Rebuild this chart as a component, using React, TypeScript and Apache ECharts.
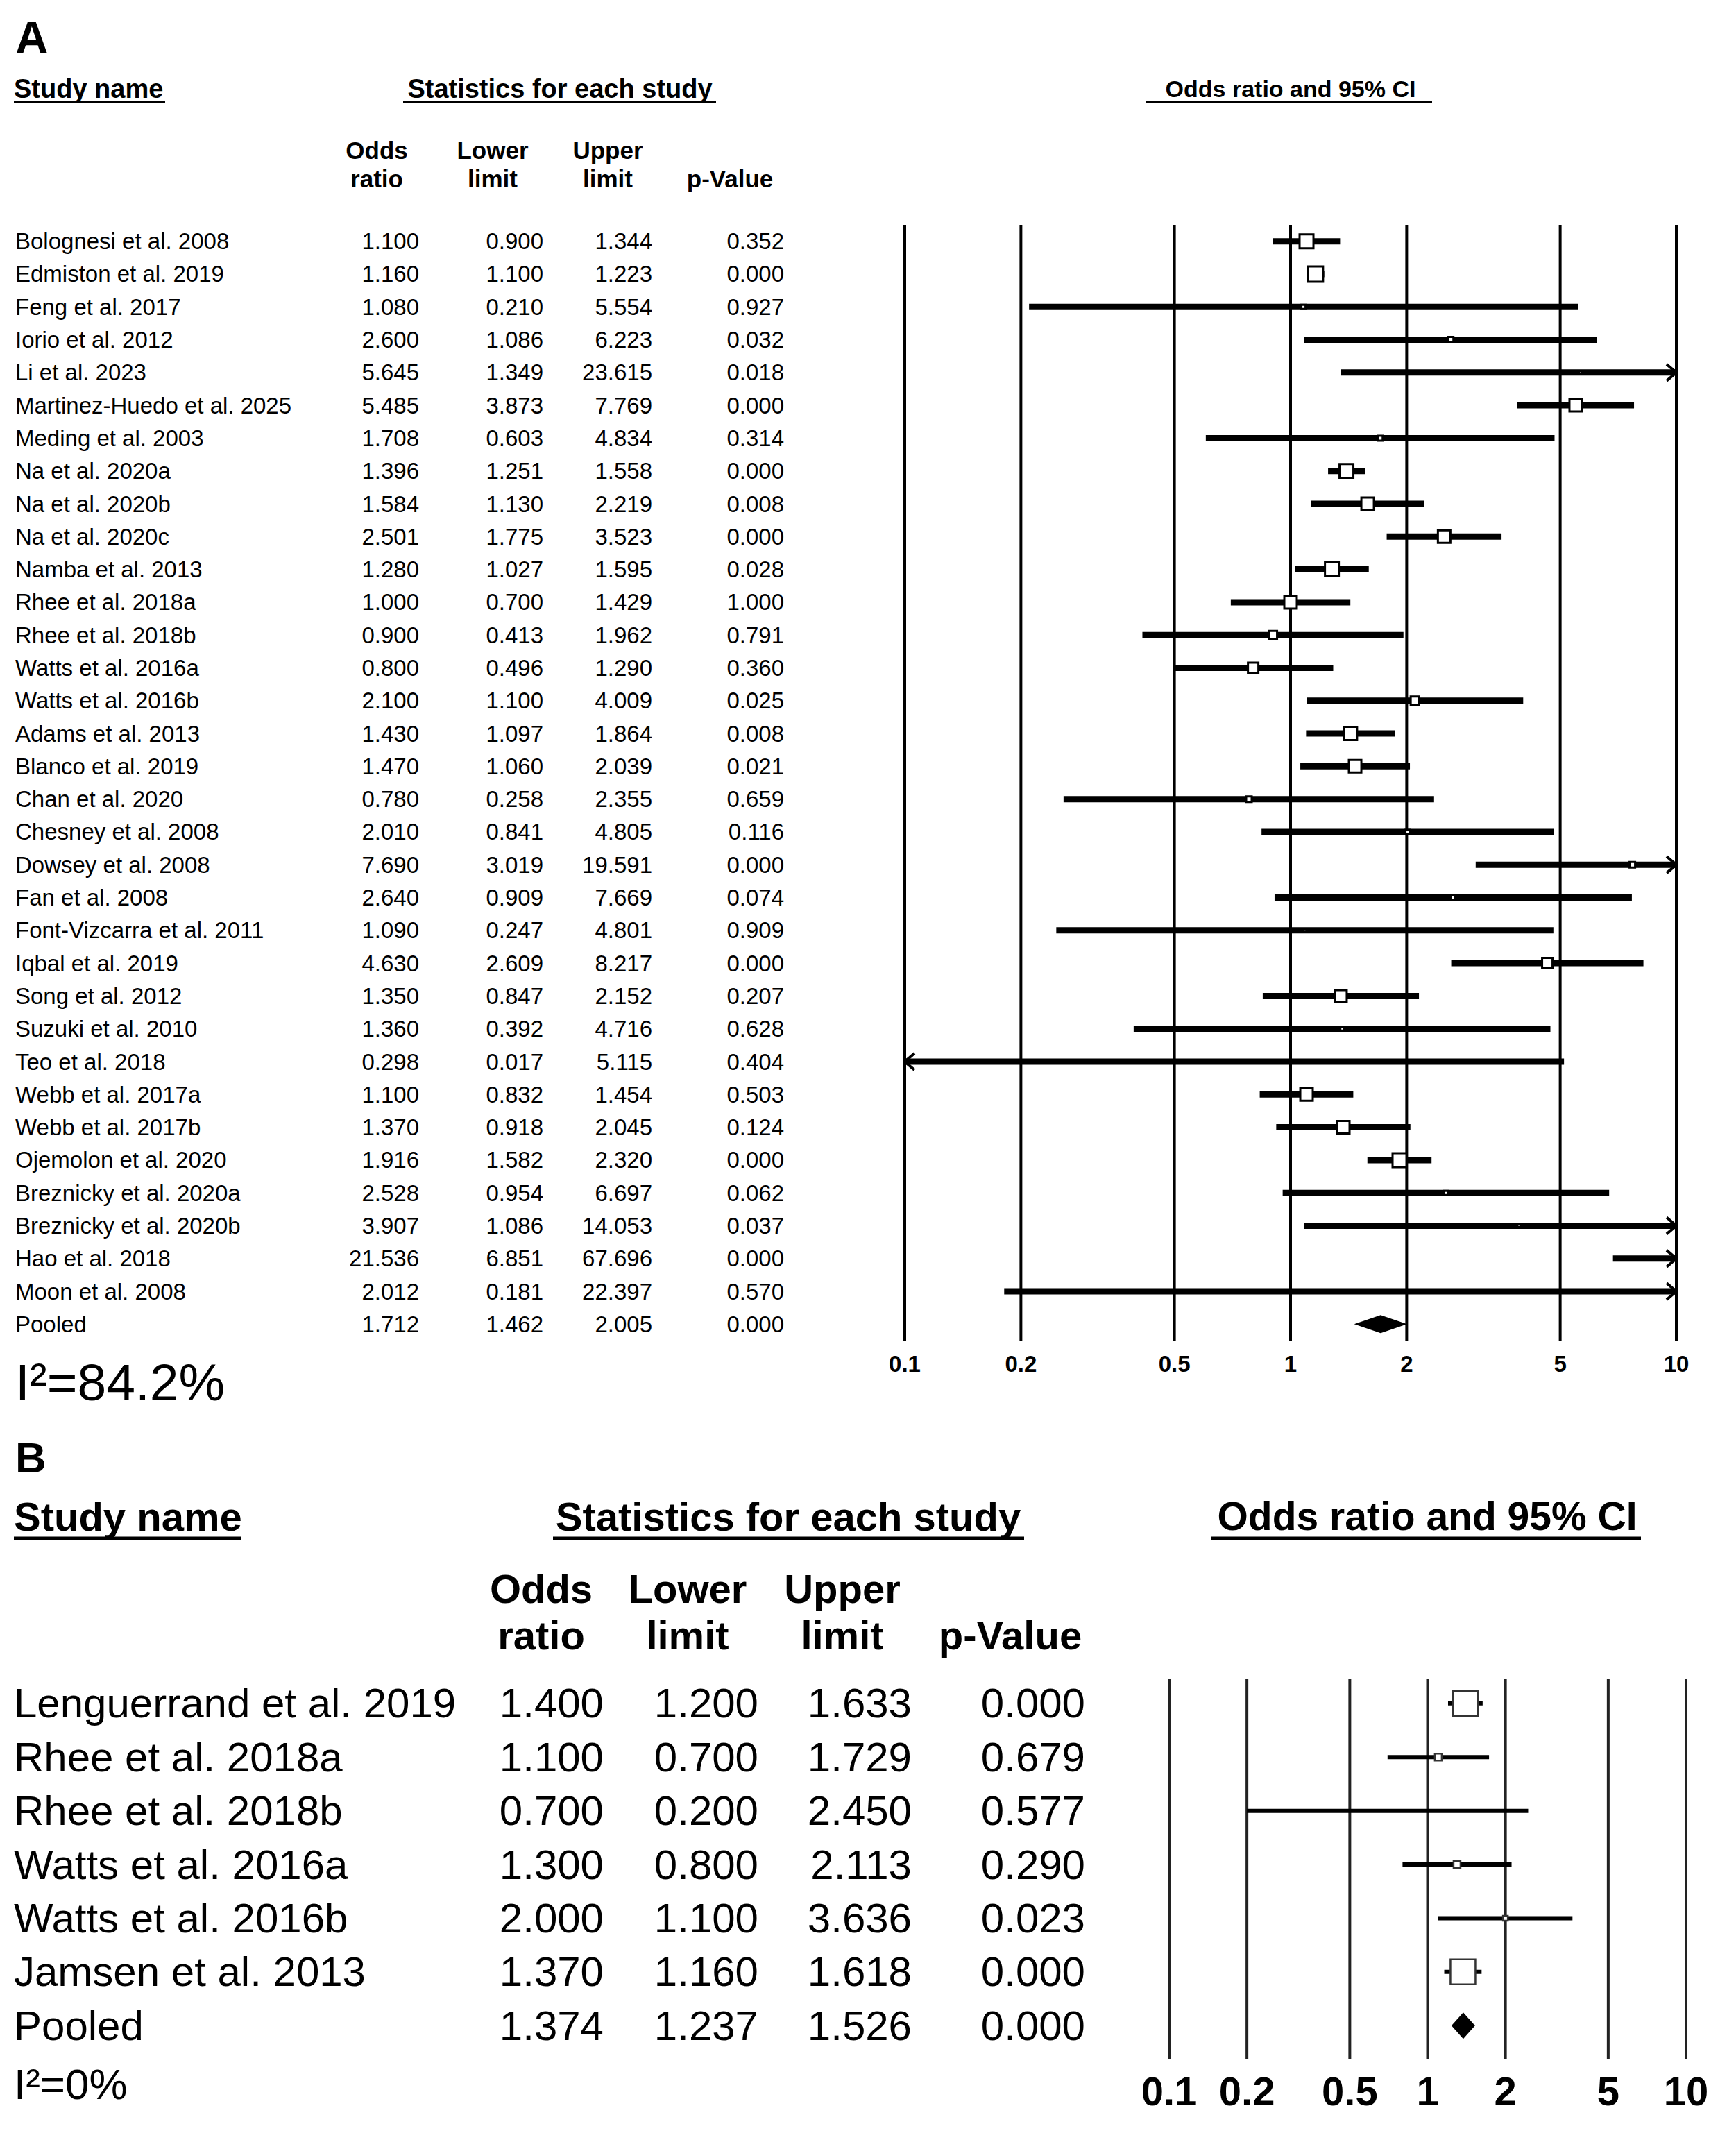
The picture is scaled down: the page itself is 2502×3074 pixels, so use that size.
import React, { useEffect, useRef } from "react";
import * as echarts from "echarts";

// ---------- Panel A data ----------
const studiesA = [
  "Bolognesi et al. 2008", "Edmiston et al. 2019", "Feng et al. 2017", "Iorio et al. 2012",
  "Li et al. 2023", "Martinez-Huedo et al. 2025", "Meding et al. 2003", "Na et al. 2020a",
  "Na et al. 2020b", "Na et al. 2020c", "Namba et al. 2013", "Rhee et al. 2018a",
  "Rhee et al. 2018b", "Watts et al. 2016a", "Watts et al. 2016b", "Adams et al. 2013",
  "Blanco et al. 2019", "Chan et al. 2020", "Chesney et al. 2008", "Dowsey et al. 2008",
  "Fan et al. 2008", "Font-Vizcarra et al. 2011", "Iqbal et al. 2019", "Song et al. 2012",
  "Suzuki et al. 2010", "Teo et al. 2018", "Webb et al. 2017a", "Webb et al. 2017b",
  "Ojemolon et al. 2020", "Breznicky et al. 2020a", "Breznicky et al. 2020b", "Hao et al. 2018",
  "Moon et al. 2008", "Pooled",
];
const orA = [1.1, 1.16, 1.08, 2.6, 5.645, 5.485, 1.708, 1.396, 1.584, 2.501, 1.28, 1.0, 0.9, 0.8, 2.1, 1.43, 1.47, 0.78, 2.01, 7.69, 2.64, 1.09, 4.63, 1.35, 1.36, 0.298, 1.1, 1.37, 1.916, 2.528, 3.907, 21.536, 2.012, 1.712];
const loA = [0.9, 1.1, 0.21, 1.086, 1.349, 3.873, 0.603, 1.251, 1.13, 1.775, 1.027, 0.7, 0.413, 0.496, 1.1, 1.097, 1.06, 0.258, 0.841, 3.019, 0.909, 0.247, 2.609, 0.847, 0.392, 0.017, 0.832, 0.918, 1.582, 0.954, 1.086, 6.851, 0.181, 1.462];
const hiA = [1.344, 1.223, 5.554, 6.223, 23.615, 7.769, 4.834, 1.558, 2.219, 3.523, 1.595, 1.429, 1.962, 1.29, 4.009, 1.864, 2.039, 2.355, 4.805, 19.591, 7.669, 4.801, 8.217, 2.152, 4.716, 5.115, 1.454, 2.045, 2.32, 6.697, 14.053, 67.696, 22.397, 2.005];
const pA = [0.352, 0.0, 0.927, 0.032, 0.018, 0.0, 0.314, 0.0, 0.008, 0.0, 0.028, 1.0, 0.791, 0.36, 0.025, 0.008, 0.021, 0.659, 0.116, 0.0, 0.074, 0.909, 0.0, 0.207, 0.628, 0.404, 0.503, 0.124, 0.0, 0.062, 0.037, 0.0, 0.57, 0.0];
// relative study weights (marker size)
const weightA = [10, 11, 3, 4, 2, 9, 3.5, 10, 9, 9, 10, 9, 6, 7.5, 6, 9.5, 9, 4, 3, 4, 3, 2, 7.5, 8.5, 2.5, 1.5, 9, 9, 10, 3, 2, 2, 1.5, 0];
const I2A = "I²=84.2%";

// ---------- Panel B data ----------
const studiesB = ["Lenguerrand et al. 2019", "Rhee et al. 2018a", "Rhee et al. 2018b", "Watts et al. 2016a", "Watts et al. 2016b", "Jamsen et al. 2013", "Pooled"];
const orB = [1.4, 1.1, 0.7, 1.3, 2.0, 1.37, 1.374];
const loB = [1.2, 0.7, 0.2, 0.8, 1.1, 1.16, 1.237];
const hiB = [1.633, 1.729, 2.45, 2.113, 3.636, 1.618, 1.526];
const pB = [0.0, 0.679, 0.577, 0.29, 0.023, 0.0, 0.0];
const weightB = [18, 5, 0, 5, 3.5, 18, 0];
const I2B = "I²=0%";

// ---------- axis ----------
const tickValues = [0.1, 0.2, 0.5, 1, 2, 5, 10];
const tickLabels = ["0.1", "0.2", "0.5", "1", "2", "5", "10"];
const X_MIN = 0.1;
const X_MAX = 10;

const FONT = "'Liberation Sans', Arial, Helvetica, sans-serif";

const A_Y = { min: -0.5, max: 33.5 };
const B_Y = { min: -0.45, max: 6.63 };

function gridLinesSeries(gridIdx: number, yr: { min: number; max: number }, cfg: any) {
  return {
    type: "custom",
    xAxisIndex: gridIdx,
    yAxisIndex: gridIdx,
    clip: false,
    silent: true,
    encode: { x: 0, y: 1 },
    data: tickValues.map((v) => [v, 0]),
    renderItem: (params: any, api: any) => {
      const v = api.value(0);
      const top = api.coord([v, yr.min]);
      const bot = api.coord([v, yr.max]);
      return {
        type: "group",
        children: [
          {
            type: "line",
            shape: { x1: top[0], y1: top[1], x2: bot[0], y2: bot[1] },
            style: { stroke: cfg.color, lineWidth: cfg.lw },
          },
          {
            type: "text",
            x: bot[0],
            y: bot[1] + cfg.labelOffset,
            style: {
              text: tickLabels[params.dataIndex],
              fill: "#000",
              fontFamily: FONT,
              fontWeight: "bold",
              fontSize: cfg.labelSize,
              textAlign: "center",
              textVerticalAlign: "middle",
            },
          },
        ],
      };
    },
  };
}

function ciSeries(gridIdx: number, or: number[], lo: number[], hi: number[], w: number[], names: string[], cfg: any) {
  return {
    type: "custom",
    xAxisIndex: gridIdx,
    yAxisIndex: gridIdx,
    clip: false,
    silent: true,
    encode: { x: 0, y: 1 },
    data: or.map((v, i) => [v, i, lo[i], hi[i], w[i], names[i] === "Pooled" ? 1 : 0]),
    renderItem: (params: any, api: any) => {
      const o = api.value(0);
      const row = api.value(1);
      const l = api.value(2);
      const h = api.value(3);
      const wt = api.value(4);
      const pooled = api.value(5);
      const p1 = api.coord([Math.max(l, X_MIN), row]);
      const p2 = api.coord([Math.min(h, X_MAX), row]);
      const y = p1[1];
      const children: any[] = [];
      if (pooled) {
        const pc = api.coord([o, row]);
        children.push({
          type: "polygon",
          shape: { points: [[p1[0], y], [pc[0], y - cfg.diamondH / 2], [p2[0], y], [pc[0], y + cfg.diamondH / 2]] },
          style: { fill: "#000" },
        });
      } else {
        children.push({
          type: "line",
          shape: { x1: p1[0], y1: y, x2: p2[0], y2: y },
          style: { stroke: "#000", lineWidth: cfg.lw },
        });
        const a = cfg.arrow;
        if (h > X_MAX) {
          children.push({
            type: "polyline",
            shape: { points: [[p2[0] - a, y - a * 0.85], [p2[0], y], [p2[0] - a, y + a * 0.85]] },
            style: { stroke: "#000", lineWidth: 4, fill: "none" },
          });
        }
        if (l < X_MIN) {
          children.push({
            type: "polyline",
            shape: { points: [[p1[0] + a, y - a * 0.85], [p1[0], y], [p1[0] + a, y + a * 0.85]] },
            style: { stroke: "#000", lineWidth: 4, fill: "none" },
          });
        }
        if (o >= X_MIN && o <= X_MAX && wt > 0) {
          const c = api.coord([o, row]);
          const s = wt * cfg.k;
          children.push({
            type: "rect",
            shape: { x: c[0] - s / 2, y: y - s / 2, width: s, height: s },
            style: { fill: "#fff", stroke: cfg.mstroke, lineWidth: cfg.mw },
          });
        }
      }
      return { type: "group", children };
    },
  };
}

function tableSeries(gridIdx: number, names: string[], or: number[], lo: number[], hi: number[], p: number[], cfg: any) {
  return {
    type: "custom",
    xAxisIndex: gridIdx,
    yAxisIndex: gridIdx,
    clip: false,
    silent: true,
    encode: { x: 0, y: 1 },
    data: names.map((_, i) => [1, i]),
    renderItem: (params: any, api: any) => {
      const i = params.dataIndex;
      const y = api.coord([1, api.value(1)])[1];
      const base = { fill: "#000", fontFamily: FONT, fontSize: cfg.size, textVerticalAlign: "middle" };
      const cell = (text: string, x: number, align: string) => ({
        type: "text",
        x,
        y,
        style: { ...base, text, textAlign: align },
      });
      return {
        type: "group",
        children: [
          cell(names[i], cfg.nameX, "left"),
          cell(or[i].toFixed(3), cfg.cols[0], "right"),
          cell(lo[i].toFixed(3), cfg.cols[1], "right"),
          cell(hi[i].toFixed(3), cfg.cols[2], "right"),
          cell(p[i].toFixed(3), cfg.cols[3], "right"),
        ],
      };
    },
  };
}

function txt(text: string, x: number, y: number, size: number, bold: boolean, align = "left") {
  return {
    type: "text",
    x,
    y,
    silent: true,
    style: {
      text,
      fill: "#000",
      fontFamily: FONT,
      fontSize: size,
      fontWeight: bold ? "bold" : "normal",
      textAlign: align,
      textVerticalAlign: "middle",
    },
  };
}

function uline(x1: number, x2: number, y: number, lw: number) {
  return { type: "line", silent: true, shape: { x1, y1: y, x2, y2: y }, style: { stroke: "#000", lineWidth: lw } };
}

export default function App() {
  const ref = useRef<HTMLDivElement>(null);
  useEffect(() => {
    document.body.style.margin = "0";
    const chart = echarts.init(ref.current!, null, { renderer: "svg" });
    const graphics: any[] = [
      // Panel A headers
      txt("A", 22, 54, 66, true),
      txt("Study name", 20, 128, 38, true),
      uline(20, 238, 147, 4),
      txt("Statistics for each study", 807, 128, 38, true, "center"),
      uline(581, 1032, 147, 4),
      txt("Odds ratio and 95% CI", 1860, 128, 34, true, "center"),
      uline(1652, 2064, 147, 4),
      txt("Odds", 543, 216, 35, true, "center"),
      txt("ratio", 543, 257, 35, true, "center"),
      txt("Lower", 710, 216, 35, true, "center"),
      txt("limit", 710, 257, 35, true, "center"),
      txt("Upper", 876, 216, 35, true, "center"),
      txt("limit", 876, 257, 35, true, "center"),
      txt("p-Value", 1052, 257, 35, true, "center"),
      txt(I2A, 22, 1992, 75, false),
      // Panel B headers
      txt("B", 22, 2100, 62, true),
      txt("Study name", 20, 2185, 58, true),
      uline(20, 348, 2217, 5),
      txt("Statistics for each study", 1136, 2185, 58, true, "center"),
      uline(797, 1476, 2217, 5),
      txt("Odds ratio and 95% CI", 2057, 2185, 57, true, "center"),
      uline(1746, 2365, 2217, 5),
      txt("Odds", 780, 2289, 58, true, "center"),
      txt("ratio", 780, 2356, 58, true, "center"),
      txt("Lower", 991, 2289, 58, true, "center"),
      txt("limit", 991, 2356, 58, true, "center"),
      txt("Upper", 1214, 2289, 58, true, "center"),
      txt("limit", 1214, 2356, 58, true, "center"),
      txt("p-Value", 1456, 2356, 58, true, "center"),
      txt(I2B, 20, 3003, 62, false),
    ];
    const hiddenX = (gi: number) => ({
      type: "log",
      logBase: 10,
      min: X_MIN,
      max: X_MAX,
      gridIndex: gi,
      show: false,
      splitLine: { show: false },
    });
    const hiddenY = (gi: number, r: { min: number; max: number }) => ({
      type: "value",
      min: r.min,
      max: r.max,
      inverse: true,
      gridIndex: gi,
      show: false,
      splitLine: { show: false },
    });
    chart.setOption({
      animation: false,
      backgroundColor: "#fff",
      grid: [
        { left: 1304, top: 324, width: 1112, height: 1608 },
        { left: 1685, top: 2420, width: 745, height: 548 },
      ],
      xAxis: [hiddenX(0), hiddenX(1)],
      yAxis: [hiddenY(0, A_Y), hiddenY(1, B_Y)],
      graphic: { elements: graphics },
      series: [
        gridLinesSeries(0, A_Y, { color: "#000", lw: 4, labelOffset: 33, labelSize: 33 }),
        gridLinesSeries(1, B_Y, { color: "#222", lw: 4, labelOffset: 45, labelSize: 58 }),
        ciSeries(0, orA, loA, hiA, weightA, studiesA, { lw: 9, k: 2, mw: 3, mstroke: "#000", arrow: 14, diamondH: 26 }),
        ciSeries(1, orB, loB, hiB, weightB, studiesB, { lw: 6, k: 2, mw: 2.5, mstroke: "#333", arrow: 14, diamondH: 38 }),
        tableSeries(0, studiesA, orA, loA, hiA, pA, { size: 33, nameX: 22, cols: [604, 783, 940, 1130] }),
        tableSeries(1, studiesB, orB, loB, hiB, pB, { size: 60, nameX: 20, cols: [870, 1093, 1314, 1564] }),
      ],
    });
    return () => chart.dispose();
  }, []);
  return <div ref={ref} style={{ width: 2502, height: 3074 }} />;
}
